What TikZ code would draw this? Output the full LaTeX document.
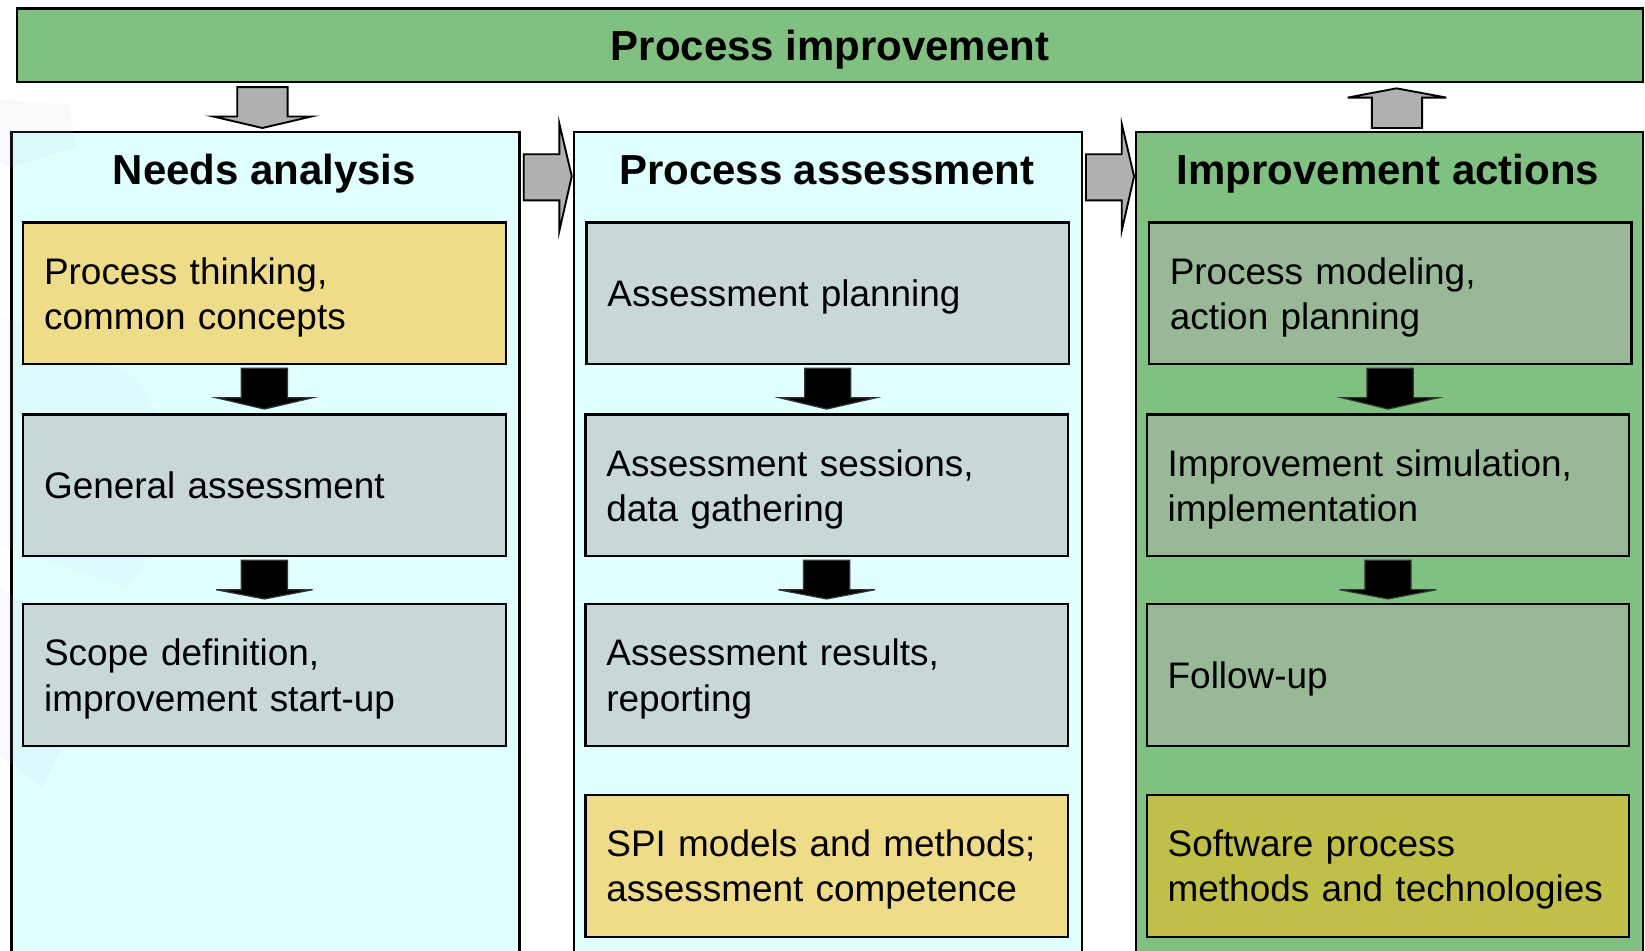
\documentclass[tikz,border=0pt]{standalone}
\usepackage{fontspec}
\setmainfont{Liberation Sans}
\usetikzlibrary{calc}
\definecolor{topgreen}{HTML}{80C080}
\definecolor{lightcyan}{HTML}{E0FFFF}
\definecolor{paleyellow}{HTML}{EEDC88}
\definecolor{bluegray}{HTML}{C8D8D8}
\definecolor{sagegreen}{HTML}{98B898}
\definecolor{olivebox}{HTML}{C0C048}
\definecolor{arrowgray}{HTML}{B0B0B0}
\definecolor{ghost}{HTML}{B8C8E0}
\begin{document}
\begin{tikzpicture}[x=0.5pt,y=-0.5pt,
  frame/.style={draw=black,line width=1.1pt},
  column/.style={frame,anchor=north west,minimum width=242pt,minimum height=420pt,inner sep=0pt},
  header/.style={font=\fontsize{20}{24}\selectfont\bfseries,inner sep=0pt,anchor=base},
  stage/.style={frame,minimum width=230pt,minimum height=67.5pt,text width=210pt,align=left,
    inner xsep=10pt,inner ysep=0pt,text depth=21.5pt,font=\fontsize{17.6}{21.5}\selectfont},
  oneline/.style={text depth=0pt},
  blockgray/.style={fill=arrowgray,draw=black,line width=0.9pt},
  blockblack/.style={fill=black,draw=black!80,line width=0.6pt}]
\useasboundingbox (0,0) rectangle (1568,906);
\clip (0,0) rectangle (1568,906);
\fill[white] (0,0) rectangle (1568,906);

% top bar
\node[frame,fill=topgreen,anchor=north west,minimum width=775pt,minimum height=35pt,inner sep=0pt,
  text depth=0pt,font=\fontsize{20}{24}\selectfont\bfseries] (top) at (15,7) {Process improvement};

% columns
\node[column,fill=lightcyan] (needs) at (10,125) {};
\node[column,fill=lightcyan] (assess) at (546,125) {};
\node[column,fill=topgreen,minimum width=241.5pt] (impr) at (1082,125) {};

% faint watermark shapes
\fill[ghost,opacity=0.10] (0,95) -- (65,100) -- (72,140) -- (10,160) -- (0,155) -- cycle;
\fill[ghost,opacity=0.07] (0,300) -- (130,360) -- (190,470) -- (120,560) -- (0,520) -- cycle;
\fill[ghost,opacity=0.10] (0,560) -- (60,600) -- (70,690) -- (40,750) -- (0,720) -- cycle;

\node[header] (h1) at (252,175.5) {Needs analysis};
\node[header] (h2) at (788,175.5) {Process assessment};
\node[header] (h3) at (1323,175.5) {Improvement actions};

% column 1
\node[stage,fill=paleyellow] (a1) at (252,279.5) {Process thinking,\\common concepts};
\node[stage,oneline,fill=bluegray] (a2) at (252,462.5) {General assessment};
\node[stage,fill=bluegray] (a3) at (252,643.5) {Scope definition,\\improvement start-up};
% column 2
\node[stage,oneline,fill=bluegray] (b1) at (789,279.5) {Assessment planning};
\node[stage,fill=bluegray] (b2) at (788,462.5) {Assessment sessions,\\data gathering};
\node[stage,fill=bluegray] (b3) at (788,643.5) {Assessment results,\\reporting};
\node[stage,fill=paleyellow] (b4) at (788,825.5) {SPI models and methods;\\assessment competence};
% column 3
\node[stage,fill=sagegreen] (c1) at (1325,279.5) {Process modeling,\\action planning};
\node[stage,fill=sagegreen] (c2) at (1323,462.5) {Improvement simulation,\\implementation};
\node[stage,oneline,fill=sagegreen] (c3) at (1323,643.5) {Follow-up};
\node[stage,fill=olivebox] (c4) at (1323,825.5) {Software process\\methods and technologies};

% black down arrows between stages
\foreach \u/\v in {a1/a2,a2/a3,b1/b2,b2/b3,c1/c2,c2/c3}{
  \draw[blockblack] ($(\u.south)+(-22,3)$) -- ($(\u.south)+(22,3)$) -- ($(\u.south)+(22,31)$)
    -- ($(\u.south)+(46,31)$) -- ($(\v.north)+(0,-4)$) -- ($(\u.south)+(-46,31)$)
    -- ($(\u.south)+(-22,31)$) -- cycle;
}

% gray down arrow: process improvement -> needs analysis
\draw[blockgray] ($(needs.north)+(-27,-42)$) -- ($(needs.north)+(21,-42)$) -- ($(needs.north)+(21,-14)$)
  -- ($(needs.north)+(44,-14)$) -- ($(needs.north)+(-3,-3)$) -- ($(needs.north)+(-50,-14)$)
  -- ($(needs.north)+(-27,-14)$) -- cycle;

% gray up arrow: improvement actions -> process improvement
\draw[blockgray] ($(impr.north)+(-17,-3)$) -- ($(impr.north)+(31,-3)$) -- ($(impr.north)+(31,-32)$)
  -- ($(impr.north)+(54,-32)$) -- ($(top.south)+(540,5)$) -- ($(impr.north)+(-40,-32)$)
  -- ($(impr.north)+(-17,-32)$) -- cycle;

% gray right arrows between columns
\draw[blockgray] ($(needs.north east)+(3,22)$) -- ($(needs.north east)+(37,22)$) -- ($(needs.north east)+(37,-7)$)
  -- ($(assess.north west)+(-1,43)$) -- ($(needs.north east)+(37,95)$) -- ($(needs.north east)+(37,66)$)
  -- ($(needs.north east)+(3,66)$) -- cycle;
\draw[blockgray] ($(assess.north east)+(3,22)$) -- ($(assess.north east)+(37,22)$) -- ($(assess.north east)+(37,-7)$)
  -- ($(impr.north west)+(-1,43)$) -- ($(assess.north east)+(37,95)$) -- ($(assess.north east)+(37,66)$)
  -- ($(assess.north east)+(3,66)$) -- cycle;
\end{tikzpicture}
\end{document}
